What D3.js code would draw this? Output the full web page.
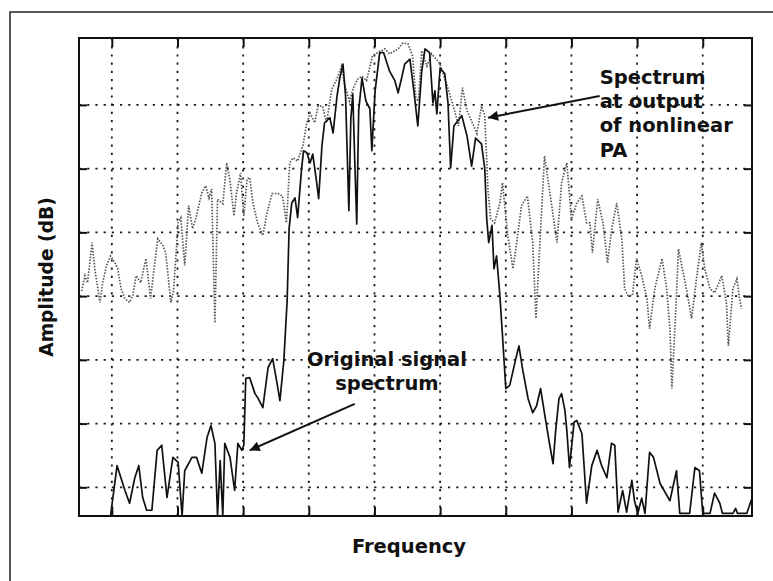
<!DOCTYPE html>
<html>
<head>
<meta charset="utf-8">
<script src="https://cdn.jsdelivr.net/npm/d3@7"></script>
<style>
body { margin: 0; background: #fff; }
svg { display: block; }
.lbl { font-family: "DejaVu Sans", sans-serif; font-weight: bold; fill: #111; }
</style>
</head>
<body>
<div id="chart"></div>
<script>
// Width and height
var chart_width     =   773;
var chart_height    =   581;

// Data (frequency in grid units x10, amplitude in dB)
var freqTicks       = [0, 10, 20, 30, 40, 50, 60, 70, 80, 90];
var ampTicks        = [-70, -60, -50, -40, -30, -20, -10];

var originalSpectrum = [
	[-0.2,-74.5],[0.8,-66.6],[2.0,-70.5],[2.7,-72.5],[3.5,-68.5],[4.1,-66.6],[4.7,-71.6],[5.3,-73.6],
	[6.1,-73.6],[6.9,-64.2],[7.6,-63.4],[8.4,-71.6],[9.3,-65.3],[10.1,-66.1],[10.7,-74.5],[11.1,-67.4],
	[12.2,-65.3],[12.9,-65.3],[13.7,-67.8],[14.5,-62.2],[15.1,-60.3],[15.7,-63.1],[16.1,-74.5],[16.5,-65.8],
	[16.9,-74.5],[17.2,-63.1],[18.0,-65.3],[18.7,-70.5],[19.2,-63.1],[19.8,-64.2],[20.1,-63.4],[20.4,-52.9],
	[21.0,-52.8],[21.8,-55.3],[22.2,-55.9],[23.0,-57.5],[23.8,-51.2],[24.5,-49.8],[25.1,-53.3],[25.6,-56.4],
	[26.2,-50.1],[26.7,-40.7],[27.0,-29.4],[27.4,-25.4],[27.9,-24.6],[28.3,-27.7],[28.9,-20.0],[29.2,-17.2],
	[29.7,-17.5],[30.2,-19.1],[30.6,-17.7],[31.2,-22.2],[31.5,-24.7],[32.0,-16.4],[32.4,-12.8],[33.2,-12.0],
	[33.7,-14.4],[34.3,-8.6],[34.7,-5.9],[35.2,-3.6],[35.6,-8.6],[36.1,-26.6],[36.4,-12.2],[36.7,-8.3],
	[37.0,-18.8],[37.3,-28.7],[37.6,-10.9],[38.1,-5.8],[38.7,-9.4],[39.3,-10.6],[39.6,-17.2],[40.1,-7.8],
	[40.8,-1.8],[41.4,-1.8],[42.3,-4.7],[43.1,-6.2],[43.6,-8.1],[44.2,-5.5],[44.6,-3.6],[45.4,-2.8],
	[46.0,-7.8],[46.6,-13.3],[47.2,-4.7],[47.7,-1.2],[48.4,-1.8],[48.9,-9.7],[49.2,-7.8],[49.5,-11.4],
	[50.0,-4.2],[50.7,-5.1],[51.2,-9.7],[51.6,-19.9],[52.1,-13.3],[52.7,-12.5],[53.3,-11.7],[54.1,-14.9],
	[54.8,-19.6],[55.4,-15.2],[56.3,-16.1],[56.8,-20.0],[57.1,-27.9],[57.4,-31.6],[57.9,-28.9],[58.2,-35.7],
	[58.6,-33.7],[59.1,-39.9],[59.5,-46.2],[60.0,-54.5],[60.6,-54.0],[61.4,-50.4],[62.0,-47.8],[62.6,-51.7],
	[63.4,-56.1],[64.1,-58.3],[64.7,-57.2],[65.3,-54.5],[65.9,-58.4],[66.7,-63.4],[67.2,-66.3],[67.6,-61.1],
	[68.1,-56.1],[68.5,-55.3],[69.0,-57.9],[69.3,-61.1],[69.7,-66.9],[70.4,-59.8],[70.8,-59.5],[71.6,-61.6],
	[72.3,-72.5],[73.1,-66.6],[73.9,-64.2],[74.6,-66.6],[75.4,-68.5],[76.1,-63.1],[76.6,-63.4],[77.1,-73.9],
	[77.8,-70.5],[78.4,-73.9],[79.2,-68.9],[79.6,-72.1],[80.1,-74.1],[80.7,-71.7],[81.2,-74.1],[81.9,-64.5],
	[82.5,-65.3],[83.5,-69.4],[85.0,-72.1],[86.0,-67.4],[86.5,-74.1],[88.0,-74.1],[88.8,-66.9],[89.5,-67.4],
	[90.0,-74.1],[91.1,-74.1],[91.8,-70.9],[92.6,-72.5],[93.0,-74.1],[94.6,-74.1],[95.0,-73.3],[95.3,-74.1],
	[96.7,-74.1],[97.5,-71.7]
];

var paSpectrum = [
	[-4.6,-39.2],[-4.1,-36.8],[-3.7,-37.9],[-3.0,-31.6],[-2.6,-35.7],[-1.8,-41.0],[-1.4,-37.9],[-0.8,-35.2],
	[-0.2,-33.7],[0.5,-34.8],[0.9,-35.7],[1.4,-38.8],[2.0,-40.4],[2.7,-41.0],[3.2,-39.9],[3.7,-36.8],
	[4.4,-37.9],[5.2,-34.1],[5.9,-40.4],[6.4,-36.0],[7.0,-31.0],[7.8,-32.1],[8.2,-33.2],[9.0,-41.0],
	[9.4,-39.2],[10.1,-28.5],[10.5,-27.7],[11.1,-35.2],[11.7,-25.8],[12.3,-29.4],[12.9,-27.4],[13.7,-23.8],
	[14.3,-22.7],[14.8,-24.6],[15.2,-23.2],[15.7,-44.2],[16.1,-24.8],[16.9,-25.5],[17.5,-19.1],[18.0,-21.9],
	[18.6,-27.4],[19.0,-23.8],[19.6,-20.7],[20.1,-27.4],[20.6,-21.6],[21.0,-21.4],[21.5,-25.4],[22.2,-28.5],
	[23.0,-30.5],[23.6,-27.1],[24.4,-23.9],[25.3,-23.9],[26.0,-24.3],[26.6,-28.5],[27.1,-19.1],[27.6,-18.3],
	[28.3,-18.8],[29.1,-16.4],[29.7,-12.8],[30.2,-11.3],[30.9,-12.8],[31.4,-10.2],[32.1,-10.2],[32.7,-12.8],
	[33.5,-7.5],[34.3,-5.9],[35.0,-3.9],[35.5,-7.0],[36.2,-9.4],[36.9,-7.0],[37.5,-5.9],[38.1,-5.5],
	[38.8,-6.2],[39.7,-2.3],[40.5,-1.8],[41.6,-1.2],[42.3,-2.0],[43.6,-1.2],[44.3,-0.3],[45.1,-0.4],
	[45.8,-2.3],[46.3,-8.9],[46.7,-9.4],[47.2,-1.5],[48.0,-3.9],[48.7,-2.0],[49.9,-3.4],[51.0,-6.7],
	[52.2,-10.9],[52.8,-13.3],[53.4,-7.3],[54.1,-10.9],[55.0,-13.0],[55.6,-14.5],[56.3,-10.2],[56.8,-11.7],
	[57.3,-23.5],[57.7,-27.9],[58.3,-28.5],[59.1,-25.4],[59.5,-22.2],[60.3,-30.5],[61.1,-35.7],[61.7,-31.3],
	[62.4,-25.8],[63.3,-24.3],[64.1,-31.6],[64.6,-43.5],[65.2,-31.6],[65.9,-18.0],[66.4,-21.6],[67.0,-25.8],
	[67.8,-31.6],[68.5,-22.2],[69.3,-19.1],[70.0,-27.9],[70.8,-25.4],[71.6,-24.3],[72.3,-28.5],[72.8,-28.5],
	[73.2,-33.2],[74.0,-24.8],[74.8,-28.5],[75.5,-34.8],[76.1,-29.7],[76.9,-25.4],[77.7,-31.3],[78.1,-38.8],
	[78.6,-39.9],[79.3,-39.9],[79.9,-34.1],[80.7,-36.8],[81.5,-40.4],[81.9,-45.1],[82.7,-38.8],[83.8,-34.1],
	[84.5,-38.8],[85.0,-45.1],[85.3,-54.5],[85.9,-42.0],[86.3,-32.6],[86.9,-35.7],[87.7,-39.9],[88.3,-43.5],
	[89.1,-36.8],[89.8,-31.6],[90.3,-35.7],[91.1,-38.8],[91.8,-39.5],[92.9,-36.8],[93.6,-41.0],[93.9,-47.8],
	[94.6,-38.8],[95.2,-37.3],[95.6,-40.4],[95.9,-42.0]
];

var paLabel         = ['Spectrum', 'at output', 'of nonlinear', 'PA'];
var origLabel       = ['Original signal', 'spectrum'];

// Plot box
var plotLeft = 79, plotRight = 752, plotTop = 38, plotBottom = 516;

var x = d3.scaleLinear().domain([-5, 97.5]).range([plotLeft, plotRight]);
var y = d3.scaleLinear().domain([-74.5, 0.5]).range([plotBottom, plotTop]);

var svg = d3.select('#chart')
	.append('svg')
	.attr('width', chart_width)
	.attr('height', chart_height);

svg.append('rect')
	.attr('width', chart_width)
	.attr('height', chart_height)
	.attr('fill', '#fff');

// outer frame (page edge)
svg.append('path')
	.attr('d', 'M10,' + chart_height + 'V12H' + chart_width)
	.attr('fill', 'none')
	.attr('stroke', '#222')
	.attr('stroke-width', 1.5);

// Grid
var grid = svg.append('g').attr('class', 'grid');

grid.selectAll('.vgrid')
	.data(freqTicks)
	.enter()
	.append('line')
	.attr('x1', (d) => x(d)).attr('x2', (d) => x(d))
	.attr('y1', plotTop).attr('y2', plotBottom);

grid.selectAll('.hgrid')
	.data(ampTicks)
	.enter()
	.append('line')
	.attr('y1', (d) => y(d)).attr('y2', (d) => y(d))
	.attr('x1', plotLeft).attr('x2', plotRight);

grid.selectAll('line')
	.attr('stroke', '#1a1a1a')
	.attr('stroke-width', 1.8)
	.attr('stroke-dasharray', '2.2,6');

// Spectra
var line = d3.line()
	.x((d) => x(d[0]))
	.y((d) => y(d[1]));

svg.append('path')
	.datum(paSpectrum)
	.attr('d', line)
	.attr('fill', 'none')
	.attr('stroke', '#555')
	.attr('stroke-width', 1.7)
	.attr('stroke-dasharray', '1.5,1.5');

svg.append('path')
	.datum(originalSpectrum)
	.attr('d', line)
	.attr('fill', 'none')
	.attr('stroke', '#111')
	.attr('stroke-width', 1.7)
	.attr('stroke-linejoin', 'round');

// Axes: ticks only, on all four sides
function noLabels(axis){
	return axis.tickFormat('').tickSizeOuter(0);
}
var axes = [
	svg.append('g').attr('transform', 'translate(0,' + plotTop + ')').call(noLabels(d3.axisTop(x).tickValues(freqTicks).tickSizeInner(-9))),
	svg.append('g').attr('transform', 'translate(0,' + plotBottom + ')').call(noLabels(d3.axisBottom(x).tickValues(freqTicks).tickSizeInner(-9))),
	svg.append('g').attr('transform', 'translate(' + plotLeft + ',0)').call(noLabels(d3.axisLeft(y).tickValues(ampTicks).tickSizeInner(-8))),
	svg.append('g').attr('transform', 'translate(' + plotRight + ',0)').call(noLabels(d3.axisRight(y).tickValues(ampTicks).tickSizeInner(-8)))
];
axes.forEach((g) => {
	g.select('.domain').remove();
	g.selectAll('line').attr('stroke', '#111').attr('stroke-width', 2);
});

svg.append('rect')
	.attr('x', plotLeft).attr('y', plotTop)
	.attr('width', plotRight - plotLeft).attr('height', plotBottom - plotTop)
	.attr('fill', 'none')
	.attr('stroke', '#111')
	.attr('stroke-width', 2);

// Axis titles
svg.append('text')
	.attr('class', 'lbl')
	.attr('x', 409)
	.attr('y', 553)
	.attr('text-anchor', 'middle')
	.attr('font-size', 19.5)
	.text('Frequency');

svg.append('text')
	.attr('class', 'lbl')
	.attr('transform', 'translate(53,' + ((plotTop + plotBottom) / 2) + ') rotate(-90)')
	.attr('text-anchor', 'middle')
	.attr('font-size', 18.7)
	.text('Amplitude (dB)');

// Annotations
svg.append('defs').append('marker')
	.attr('id', 'head')
	.attr('viewBox', '0 0 10 10')
	.attr('refX', 10).attr('refY', 5)
	.attr('markerUnits', 'userSpaceOnUse')
	.attr('markerWidth', 15).attr('markerHeight', 10)
	.attr('orient', 'auto')
	.append('path')
	.attr('d', 'M0,0L10,5L0,10Z')
	.attr('fill', '#111');

function arrow(from, to){
	svg.append('line')
		.attr('x1', x(from[0])).attr('y1', y(from[1]))
		.attr('x2', x(to[0])).attr('y2', y(to[1]))
		.attr('stroke', '#111')
		.attr('stroke-width', 2)
		.attr('marker-end', 'url(#head)');
}
arrow([74.3, -8.6], [57.3, -12.0]);
arrow([37.0, -56.9], [21.0, -64.2]);

svg.append('text')
	.attr('class', 'lbl')
	.attr('font-size', 19.5)
	.selectAll('tspan')
	.data(paLabel)
	.enter()
	.append('tspan')
	.attr('x', x(74.3))
	.attr('y', (d, i) => y(-6.7) + i * 24.3)
	.text((d) => d);

svg.append('text')
	.attr('class', 'lbl')
	.attr('font-size', 19.5)
	.attr('text-anchor', 'middle')
	.selectAll('tspan')
	.data(origLabel)
	.enter()
	.append('tspan')
	.attr('x', x(41.9))
	.attr('y', (d, i) => y(-50.9) + i * 24)
	.text((d) => d);
</script>
</body>
</html>
